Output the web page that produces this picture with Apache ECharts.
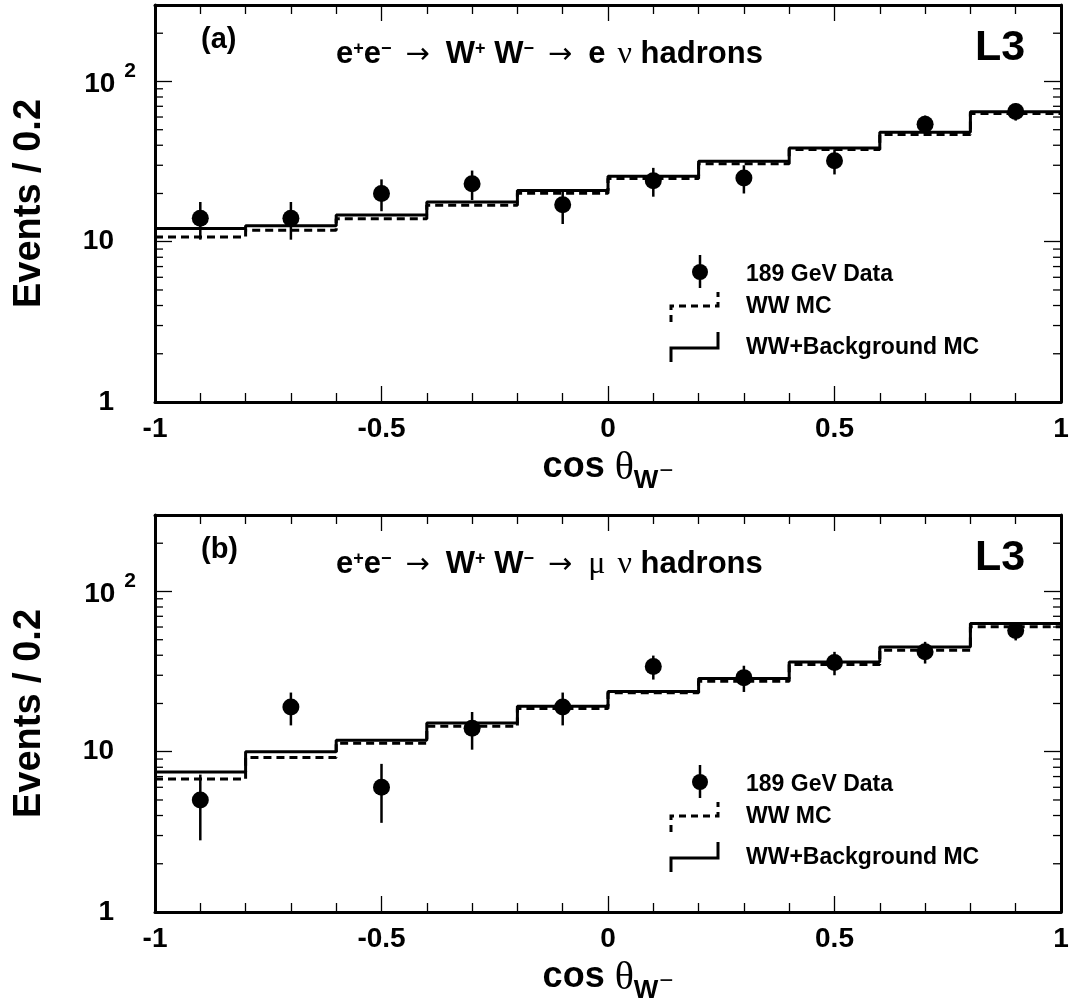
<!DOCTYPE html>
<html>
<head>
<meta charset="utf-8">
<script src="https://cdn.jsdelivr.net/npm/echarts@6/dist/echarts.min.js"></script>
<style>html,body{margin:0;padding:0;background:#fff}</style>
</head>
<body>
<div id="chart" style="width:1070px;height:1005px"></div>
<script>
// bins in cos(theta_W-)
const binEdges = [-1, -0.8, -0.6, -0.4, -0.2, 0, 0.2, 0.4, 0.6, 0.8, 1];
const binCenters = [-0.9, -0.7, -0.5, -0.3, -0.1, 0.1, 0.3, 0.5, 0.7, 0.9];

// (a) e nu hadrons
const dataE = [14, 14, 20, 23, 17, 24, 25, 32, 54, 65];
const errLoE = [10.3, 10.3, 15.5, 18.2, 12.9, 19.1, 20, 26.3, 46.7, 57];
const errHiE = [17.7, 17.7, 24.5, 27.8, 21.1, 28.9, 30, 37.7, 61.3, 73];
const wwE = [10.7, 11.8, 13.9, 16.9, 20.1, 24.8, 30.7, 37.6, 46.6, 63.1];
const wwBkgE = [12.1, 12.6, 14.7, 17.7, 20.9, 25.6, 31.8, 38.5, 48.2, 64.7];

// (b) mu nu hadrons
const dataM = [5, 19, 6, 14, 19, 34, 29, 36, 42, 57];
const errLoM = [2.8, 14.6, 3.6, 10.3, 14.6, 28.2, 23.6, 30, 35.5, 49.5];
const errHiM = [7.2, 23.4, 8.4, 17.7, 23.4, 39.8, 34.4, 42, 48.5, 64.5];
const wwM = [6.75, 9.2, 11.3, 14.4, 18.6, 23.3, 27.5, 35.0, 43.0, 60.2];
const wwBkgM = [7.47, 10.0, 11.8, 15.1, 19.2, 23.8, 28.6, 36.3, 45.1, 63.1];

// minor ticks of the log axis
const yMinorTicks = [2, 3, 4, 5, 6, 7, 8, 9, 20, 30, 40, 50, 60, 70, 80, 90, 200];

const FONT = "Liberation Sans";
const PANEL_DY = 510;

const chart = echarts.init(document.getElementById("chart"));

function stepData(vals) {
  return binEdges.map((e, i) => [e, vals[Math.min(i, vals.length - 1)]]);
}

function xAxes(gridIndex) {
  const base = {
    gridIndex: gridIndex,
    type: "value",
    min: -1,
    max: 1,
    interval: 0.5,
    axisLine: { show: true, onZero: false, lineStyle: { color: "#000", width: 3 } },
    axisTick: { show: true, inside: true, length: 16, lineStyle: { color: "#000", width: 1.3 } },
    minorTick: { show: true, splitNumber: 5, length: 9, lineStyle: { color: "#000", width: 1.3 } },
    splitLine: { show: false },
    minorSplitLine: { show: false },
  };
  return [
    Object.assign({}, base, {
      position: "bottom",
      axisLabel: {
        show: true,
        margin: 13,
        showMinLabel: true,
        showMaxLabel: true,
        color: "#000",
        fontFamily: FONT,
        fontWeight: "bold",
        fontSize: 28,
        lineHeight: 28,
        formatter: (v) => String(v),
      },
      name: "{c|cos }{g|θ}{s|W}{m|−}",
      nameLocation: "middle",
      nameGap: 47,
      nameTextStyle: {
        color: "#000",
        rich: {
          c: { fontFamily: FONT, fontWeight: "bold", fontSize: 36, verticalAlign: "top" },
          g: { fontFamily: "Liberation Serif", fontWeight: "normal", fontSize: 40, verticalAlign: "top", padding: [-1, 0, 0, 0] },
          s: { fontFamily: FONT, fontWeight: "bold", fontSize: 26, verticalAlign: "top", padding: [19, 0, 0, 0] },
          m: { fontFamily: FONT, fontWeight: "normal", fontSize: 24, verticalAlign: "top", padding: [10, 0, 0, 1] },
        },
      },
    }),
    Object.assign({}, base, { position: "top", axisLabel: { show: false } }),
  ];
}

function yAxes(gridIndex) {
  const base = {
    gridIndex: gridIndex,
    type: "log",
    logBase: 10,
    min: 1,
    max: 300,
    axisLine: { show: true, onZero: false, lineStyle: { color: "#000", width: 3 } },
    axisTick: { show: true, inside: true, length: 17, lineStyle: { color: "#000", width: 1.3 } },
    splitLine: { show: false },
  };
  return [
    Object.assign({}, base, {
      position: "left",
      axisLabel: {
        show: true,
        margin: 19,
        showMaxLabel: false,
        color: "#000",
        padding: [0, 0, 3.5, 0],
        formatter: (v) => (v === 100 ? "{n|10}{e|2}" : "{m|" + v + "}{p| }"),
        rich: {
          n: { fontFamily: FONT, fontWeight: "bold", fontSize: 28, lineHeight: 37.5, verticalAlign: "bottom" },
          e: { fontFamily: FONT, fontWeight: "bold", fontSize: 21, verticalAlign: "top", padding: [0, 0, 0, 9] },
          m: { fontFamily: FONT, fontWeight: "bold", fontSize: 28, lineHeight: 31.5, verticalAlign: "bottom" },
          p: { width: 22 },
        },
      },
      name: "Events / 0.2",
      nameLocation: "middle",
      nameGap: 105,
      nameTextStyle: { color: "#000", fontFamily: FONT, fontWeight: "bold", fontSize: 38, lineHeight: 40 },
    }),
    Object.assign({}, base, { position: "right", axisLabel: { show: false } }),
  ];
}

function panelSeries(xi, yi, data, errLo, errHi, ww, wwBkg) {
  return [
    {
      name: "WW+Background MC",
      type: "line",
      xAxisIndex: xi,
      yAxisIndex: yi,
      step: "end",
      showSymbol: false,
      data: stepData(wwBkg),
      lineStyle: { color: "#000", width: 3, opacity: 1 },
      z: 3,
    },
    {
      name: "WW MC",
      type: "line",
      xAxisIndex: xi,
      yAxisIndex: yi,
      step: "end",
      showSymbol: false,
      data: stepData(ww),
      lineStyle: { color: "#000", width: 3, type: [8, 5], opacity: 1 },
      z: 3,
    },
    {
      // error bars
      type: "custom",
      xAxisIndex: xi,
      yAxisIndex: yi,
      data: binCenters.map((x, i) => [x, errLo[i], errHi[i]]),
      encode: { x: 0, y: [1, 2] },
      renderItem: function (params, api) {
        const lo = api.coord([api.value(0), api.value(1)]);
        const hi = api.coord([api.value(0), api.value(2)]);
        return {
          type: "line",
          shape: { x1: lo[0], y1: lo[1], x2: hi[0], y2: hi[1] },
          style: { stroke: "#000", lineWidth: 2.5 },
        };
      },
      z: 4,
    },
    {
      name: "189 GeV Data",
      type: "scatter",
      xAxisIndex: xi,
      yAxisIndex: yi,
      symbol: "circle",
      symbolSize: 17,
      data: binCenters.map((x, i) => [x, data[i]]),
      itemStyle: { color: "#000", opacity: 1 },
      z: 5,
    },
    {
      // minor ticks on both y sides
      type: "custom",
      xAxisIndex: xi,
      yAxisIndex: yi,
      data: yMinorTicks.map((v) => [-1, v]),
      silent: true,
      renderItem: function (params, api) {
        const v = api.value(1);
        const l = api.coord([-1, v]);
        const r = api.coord([1, v]);
        const st = { stroke: "#000", lineWidth: 1.3 };
        return {
          type: "group",
          children: [
            { type: "line", shape: { x1: l[0], y1: l[1], x2: l[0] + 8, y2: l[1] }, style: st },
            { type: "line", shape: { x1: r[0], y1: r[1], x2: r[0] - 8, y2: r[1] }, style: st },
          ],
        };
      },
      z: 1,
    },
  ];
}

function panelGraphics(dy, tag, lepton) {
  const txt = (x, y, text, size, extra) => ({
    type: "text",
    x: x,
    y: y + dy,
    style: Object.assign(
      { text: text, fill: "#000", fontFamily: FONT, fontWeight: "bold", fontSize: size, align: "left", verticalAlign: "middle" },
      extra || {}
    ),
  });
  const title =
    "{b|e}{u|+}{b|e}{u|−}{a|→}{b|W}{u|+}{b| W}{u|−}{a|→}" +
    (lepton === "e" ? "{b|e}{s| }{g|ν}" : "{g|μ}{s| }{g|ν}") +
    "{b| hadrons}";
  return [
    txt(201, 40, tag, 29),
    txt(975, 48, "L3", 43),
    {
      type: "text",
      x: 336,
      y: 39 + dy,
      style: {
        text: title,
        fill: "#000",
        align: "left",
        verticalAlign: "top",
        rich: {
          b: { fontFamily: FONT, fontWeight: "bold", fontSize: 31, verticalAlign: "top" },
          u: { fontFamily: FONT, fontWeight: "bold", fontSize: 18, verticalAlign: "top", padding: [1, 0, 0, 0] },
          a: { fontFamily: "DejaVu Sans", fontWeight: "normal", fontSize: 29, verticalAlign: "top", padding: [2, 16, 0, 14] },
          s: { fontFamily: FONT, fontSize: 31, verticalAlign: "top", width: 12 },
          g: { fontFamily: "Liberation Serif", fontWeight: "normal", fontSize: 32, verticalAlign: "top" },
        },
      },
    },
    // legend: data
    { type: "line", shape: { x1: 700, y1: 255 + dy, x2: 700, y2: 288 + dy }, style: { stroke: "#000", lineWidth: 2.5 } },
    { type: "circle", shape: { cx: 700, cy: 272 + dy, r: 8 }, style: { fill: "#000" } },
    txt(746, 275, "189 GeV Data", 23),
    // legend: WW MC
    {
      type: "polyline",
      shape: { points: [[671, 322 + dy], [671, 306 + dy], [718, 306 + dy], [718, 292 + dy]] },
      style: { stroke: "#000", lineWidth: 3, fill: null, lineDash: [7, 5] },
    },
    txt(746, 307, "WW MC", 23),
    // legend: WW+Background MC
    {
      type: "polyline",
      shape: { points: [[671, 362 + dy], [671, 348 + dy], [718, 348 + dy], [718, 332 + dy]] },
      style: { stroke: "#000", lineWidth: 3, fill: null },
    },
    txt(746, 348, "WW+Background MC", 23),
  ];
}

const option = {
  animation: false,
  backgroundColor: "#fff",
  grid: [
    { left: 155, top: 5, width: 906, height: 397, outerBoundsMode: "none" },
    { left: 155, top: 5 + PANEL_DY, width: 906, height: 397, outerBoundsMode: "none" },
  ],
  xAxis: [].concat(xAxes(0), xAxes(1)),
  yAxis: [].concat(yAxes(0), yAxes(1)),
  series: [].concat(
    panelSeries(0, 0, dataE, errLoE, errHiE, wwE, wwBkgE),
    panelSeries(2, 2, dataM, errLoM, errHiM, wwM, wwBkgM)
  ),
  graphic: [].concat(panelGraphics(0, "(a)", "e"), panelGraphics(PANEL_DY, "(b)", "mu")),
};

chart.setOption(option);
</script>
</body>
</html>
